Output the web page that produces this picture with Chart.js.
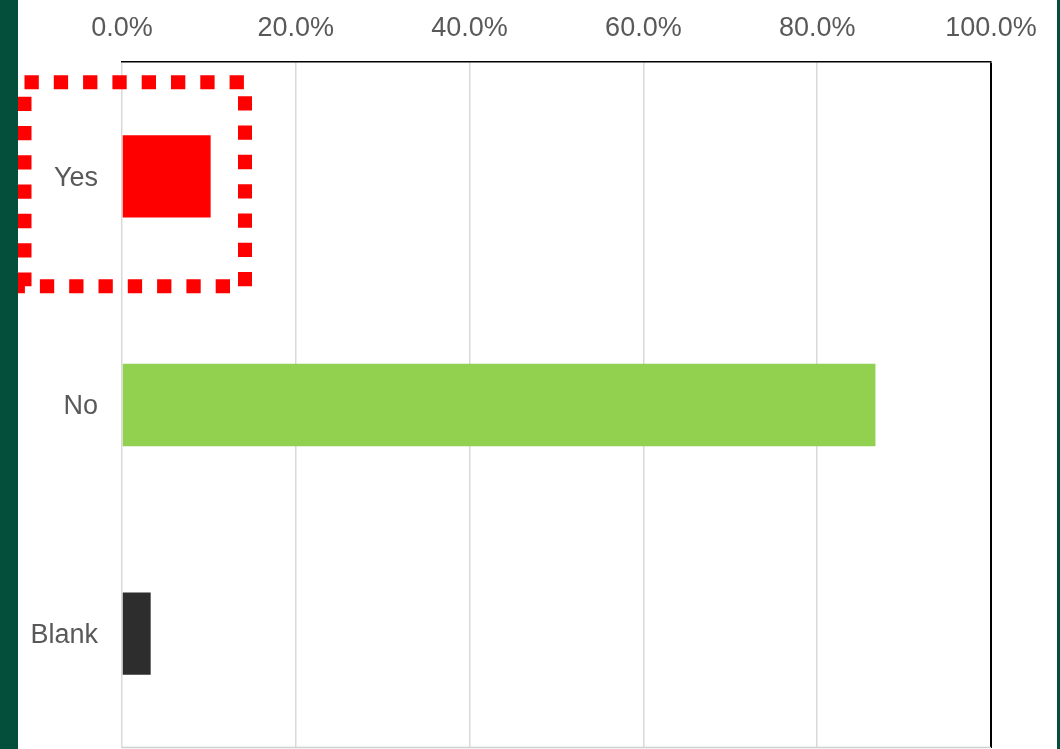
<!DOCTYPE html>
<html>
<head>
<meta charset="utf-8">
<script src="https://cdn.jsdelivr.net/npm/chart.js@4/dist/chart.umd.min.js"></script>
<style>
  html, body { margin: 0; padding: 0; }
  body { width: 1060px; height: 749px; background: #034f3b; position: relative; overflow: hidden; }
  #wrap { position: absolute; left: 18px; top: 0; width: 1039px; height: 749px; background: #ffffff; }
  canvas { display: block; }
</style>
</head>
<body>
<div id="wrap"><canvas id="c" width="1039" height="749"></canvas></div>
<script>
// ---- data ----
const categories = ['Yes', 'No', 'Blank'];
const shares = [10.2, 86.7, 3.3];
const barColors = ['#ff0000', '#92d050', '#2d2d2d'];
const xTickValues = [0, 20, 40, 60, 80, 100];

const FONT = "'Liberation Sans', Arial, sans-serif";

const framePlugin = {
  id: 'frame',
  afterDraw(chart) {
    const ctx = chart.ctx;
    const a = chart.chartArea;
    const y = chart.scales.y;
    ctx.save();
    // bottom border (light)
    ctx.strokeStyle = '#d0d0d0';
    ctx.lineWidth = 1.5;
    ctx.beginPath();
    ctx.moveTo(a.left, a.bottom - 0.5);
    ctx.lineTo(a.right, a.bottom - 0.5);
    ctx.stroke();
    // highlight box around first category
    const cy = y.getPixelForValue(0);
    const top = cy - 94, bottom = cy + 110;
    const left = a.left - 97.5, right = a.left + 123;
    ctx.strokeStyle = '#ff0000';
    ctx.lineWidth = 14;
    ctx.setLineDash([14.3, 15]);
    ctx.lineCap = 'butt';
    ctx.strokeRect(left, top, right - left, bottom - top);
    ctx.restore();
  }
};

new Chart(document.getElementById('c'), {
  type: 'bar',
  data: {
    labels: categories,
    datasets: [{
      data: shares,
      backgroundColor: barColors,
      borderWidth: 0,
      barPercentage: 0.36,
      categoryPercentage: 1
    }]
  },
  options: {
    indexAxis: 'y',
    responsive: false,
    animation: false,
    devicePixelRatio: 1,
    layout: { padding: { left: 0, right: 66, top: 0, bottom: 1 } },
    plugins: { legend: { display: false }, tooltip: { enabled: false } },
    scales: {
      x: {
        position: 'top',
        min: 0,
        max: 100,
        afterBuildTicks(scale) { scale.ticks = xTickValues.map(v => ({ value: v })); },
        afterFit(scale) {
          scale.height = 62;
          scale.paddingLeft = 0; scale.paddingRight = 0;
          scale.paddingTop = 0; scale.paddingBottom = 0;
        },
        ticks: {
          callback: v => Number(v).toFixed(1) + '%',
          color: '#595959',
          font: { family: FONT, size: 27 },
          padding: 17,
          maxRotation: 0
        },
        grid: {
          drawTicks: false,
          color: ctx => (ctx.index === xTickValues.length - 1 ? '#000000' : '#d9d9d9'),
          lineWidth: ctx => (ctx.index === xTickValues.length - 1 ? 2 : 1.5)
        },
        border: { display: true, color: '#000000', width: 1.5 }
      },
      y: {
        afterFit(scale) {
          scale.width = 104;
          scale.paddingLeft = 0; scale.paddingRight = 0;
          scale.paddingTop = 0; scale.paddingBottom = 0;
        },
        ticks: {
          color: '#595959',
          font: { family: FONT, size: 27 },
          padding: 24,
          labelOffset: 2
        },
        grid: { display: false, drawTicks: false },
        border: { display: false }
      }
    }
  },
  plugins: [framePlugin]
});
</script>
</body>
</html>
